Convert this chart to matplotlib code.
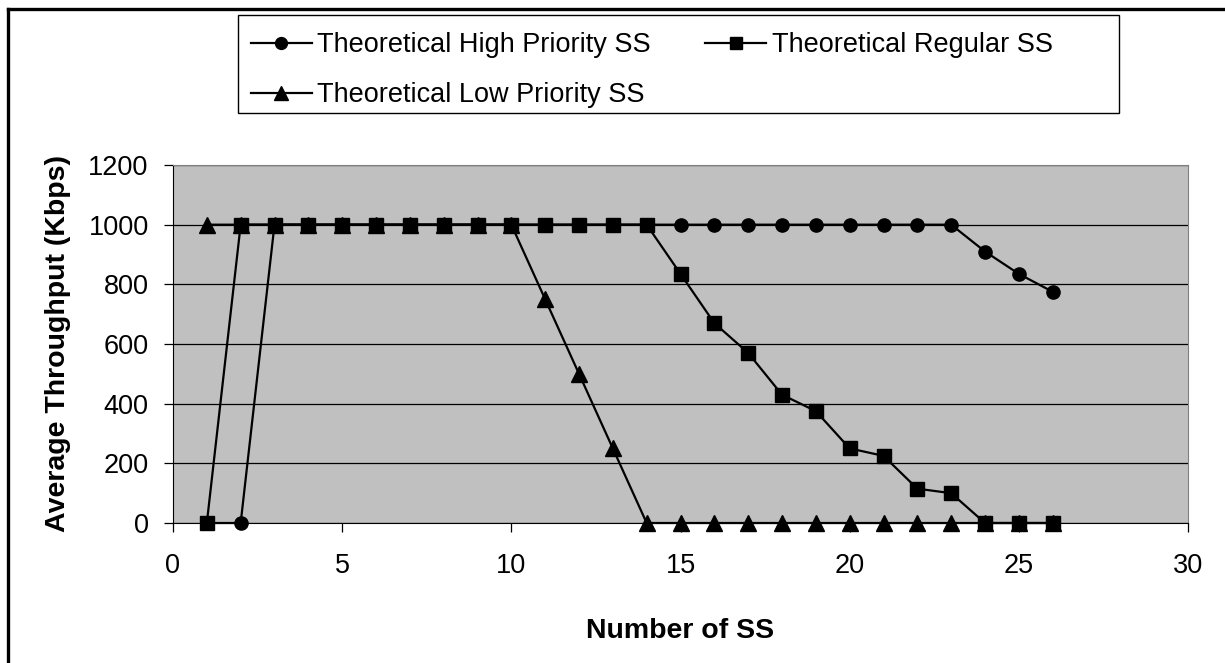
import matplotlib
matplotlib.use("Agg")
import matplotlib.pyplot as plt
from matplotlib.lines import Line2D
from matplotlib.patches import Rectangle

plt.rcParams['font.family'] = ['Liberation Sans', 'DejaVu Sans']

# Number of subscriber stations
ss = list(range(1, 27))

# Average throughput (Kbps) per class
high = [0, 0] + [1000] * 21 + [910, 835, 775]
regular = [0] + [1000] * 13 + [835, 670, 570, 430, 375, 250, 225, 115, 100, 0, 0, 0]
low = [1000] * 10 + [750, 500, 250] + [0] * 13

labels = ['Theoretical High Priority SS', 'Theoretical Regular SS', 'Theoretical Low Priority SS']

W, H = 1225, 663
fig = plt.figure(figsize=(W / 100, H / 100), dpi=100)
# plot area: x 173..1188 px, y 165..523 px
ax = fig.add_axes([173 / W, 1 - 523 / H, (1188 - 173) / W, (523 - 165) / H])
ax.set_facecolor('#C0C0C0')

style = dict(color='black', linewidth=1.6, clip_on=False)
l_high, = ax.plot(ss, high, marker='o', markersize=9.5, **style)
l_low, = ax.plot(ss, low, marker='^', markersize=11, **style)
l_reg, = ax.plot(ss, regular, marker='s', markersize=9.5, **style)

ax.set_xlim(0, 30)
ax.set_ylim(0, 1200)
ax.set_xticks(range(0, 31, 5))
ax.set_yticks(range(0, 1201, 200))
ax.yaxis.grid(True, color='black', linewidth=0.9)
ax.set_axisbelow(True)
ax.tick_params(axis='both', direction='out', length=6.5, width=0.9, labelsize=19.5)
ax.tick_params(axis='y', pad=11)
ax.tick_params(axis='x', pad=15)

for side in ['top', 'right']:
    ax.spines[side].set_color('#808080')
for side in ['left', 'bottom']:
    ax.spines[side].set_color('black')

ax.set_xlabel('Number of SS', fontsize=20.5, fontweight='bold')
ax.set_ylabel('Average Throughput (Kbps)', fontsize=20.5, fontweight='bold')
ax.xaxis.set_label_coords(0.5, (523 - 618) / 358, transform=ax.transAxes)
ax.yaxis.set_label_coords((71 - 173) / 1015, 0.5, transform=ax.transAxes)

# legend box
fig.patches.append(Rectangle((238 / W, 1 - 113 / H), (1119 - 238) / W, (113 - 15) / H,
                             transform=fig.transFigure, facecolor='white',
                             edgecolor='black', linewidth=1.0, zorder=1))
fig.legend([l_high, l_low, l_reg], [labels[0], labels[2], labels[1]],
           loc='upper left', bbox_to_anchor=(251 / W, 1 - 32 / H), bbox_transform=fig.transFigure,
           ncol=2, frameon=False, fontsize=19.5, handlelength=2.25, handletextpad=0.2,
           columnspacing=2.0, labelspacing=0.89, borderpad=0, borderaxespad=0,
           markerscale=0.9)

# outer chart border
fig.add_artist(Line2D([8 / W, 1.0], [1 - 9 / H, 1 - 9 / H], transform=fig.transFigure,
                      color='black', linewidth=2.4))
fig.add_artist(Line2D([8 / W, 8 / W], [0.0, 1 - 9 / H], transform=fig.transFigure,
                      color='black', linewidth=2.4))

fig.savefig('out.png', dpi=100, facecolor='white')
